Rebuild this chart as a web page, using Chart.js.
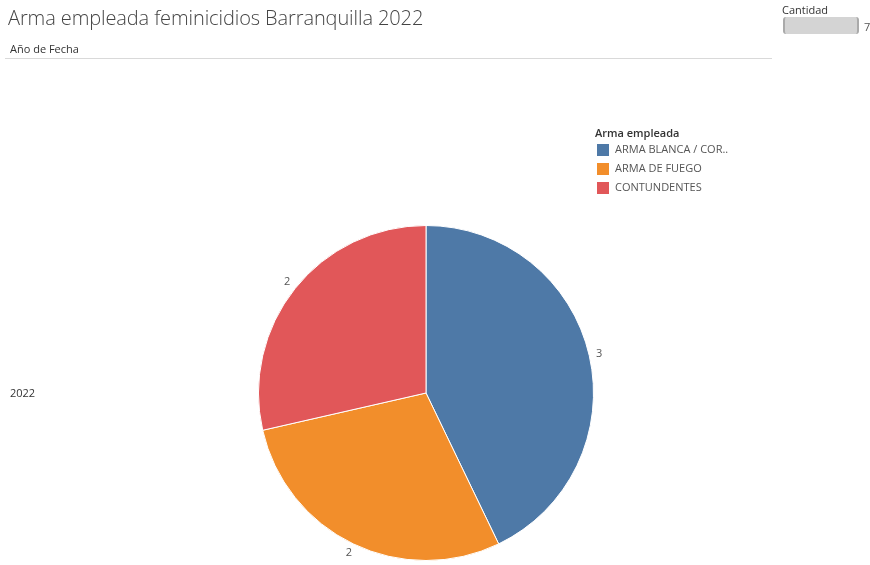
<!DOCTYPE html>
<html>
<head>
<meta charset="utf-8">
<script src="https://cdn.jsdelivr.net/npm/chart.js@4"></script>
<style>
  html, body { margin:0; padding:0; background:#fff; width:870px; height:565px; overflow:hidden; font-family:"Open Sans", "Noto Sans", sans-serif; }
  #wrap { position:absolute; left:0; top:0; width:870px; height:565px; }
  .t { position:absolute; white-space:nowrap; color:#333; }
  #title { left:8px; top:4px; font-size:20px; font-weight:300; color:#444; letter-spacing:-0.1px; }
  #yearhdr { left:10px; top:41px; font-size:11px; color:#333; }
  #hline { position:absolute; left:5px; top:58px; width:767px; height:1px; background:#d9d9d9; }
  #year { left:10px; top:385px; font-size:11px; color:#333; }
  #cant { left:782px; top:2px; font-size:11px; color:#333; }
  #cantbar { position:absolute; left:783px; top:17px; width:76px; height:17px; background:#d4d4d4; border-left:2px solid #aaa; border-right:2px solid #aaa; border-radius:3px; box-sizing:border-box; }
  #cantval { left:864px; top:19px; font-size:11px; color:#555; }
  #legtitle { left:595px; top:125px; font-size:11px; color:#333; font-weight:600; }
  .sw { position:absolute; width:12px; height:12px; }
  .lt { position:absolute; font-size:11px; color:#555; white-space:nowrap; }
  canvas { position:absolute; left:0; top:0; }
</style>
</head>
<body>
<div id="wrap">
  <canvas id="c" width="870" height="565"></canvas>
  <div class="t" id="title">Arma empleada feminicidios Barranquilla 2022</div>
  <div class="t" id="yearhdr">Año de Fecha</div>
  <div id="hline"></div>
  <div class="t" id="year">2022</div>
  <div class="t" id="cant">Cantidad</div>
  <div id="cantbar"></div>
  <div class="t" id="cantval">7</div>
  <div class="t" id="legtitle">Arma empleada</div>
  <div id="legend"></div>
</div>
<script>
const categories = ["ARMA BLANCA / COR..", "ARMA DE FUEGO", "CONTUNDENTES"];
const values = [3, 2, 2];
const colors = ["#4e79a7", "#f28e2b", "#e15759"];

// legend
const leg = document.getElementById('legend');
categories.forEach((c, i) => {
  const sw = document.createElement('div');
  sw.className = 'sw';
  sw.style.left = '597px';
  sw.style.top = (144 + i * 19) + 'px';
  sw.style.background = colors[i];
  leg.appendChild(sw);
  const lt = document.createElement('div');
  lt.className = 'lt';
  lt.style.left = '615px';
  lt.style.top = (141 + i * 19) + 'px';
  lt.textContent = c;
  leg.appendChild(lt);
});

const labelPlugin = {
  id: 'sliceLabels',
  afterDatasetsDraw(chart) {
    const ctx = chart.ctx;
    const meta = chart.getDatasetMeta(0);
    ctx.save();
    ctx.font = '11px "Open Sans", sans-serif';
    ctx.fillStyle = '#555';
    ctx.textAlign = 'center';
    ctx.textBaseline = 'middle';
    meta.data.forEach((arc, i) => {
      const p = arc.getProps(['x','y','startAngle','endAngle','outerRadius'], true);
      const mid = (p.startAngle + p.endAngle) / 2;
      const r = p.outerRadius + 10;
      ctx.fillText(String(chart.data.datasets[0].data[i]), p.x + Math.cos(mid) * r, p.y + Math.sin(mid) * r);
    });
    ctx.restore();
  }
};

new Chart(document.getElementById('c'), {
  type: 'pie',
  data: {
    labels: categories,
    datasets: [{ data: values, backgroundColor: colors, borderColor: '#ffffff', borderWidth: 1 }]
  },
  options: {
    responsive: false,
    animation: false,
    layout: { padding: { left: 258, right: 276, top: 225, bottom: 4 } },
    plugins: { legend: { display: false }, tooltip: { enabled: false } }
  },
  plugins: [labelPlugin]
});
</script>
</body>
</html>
